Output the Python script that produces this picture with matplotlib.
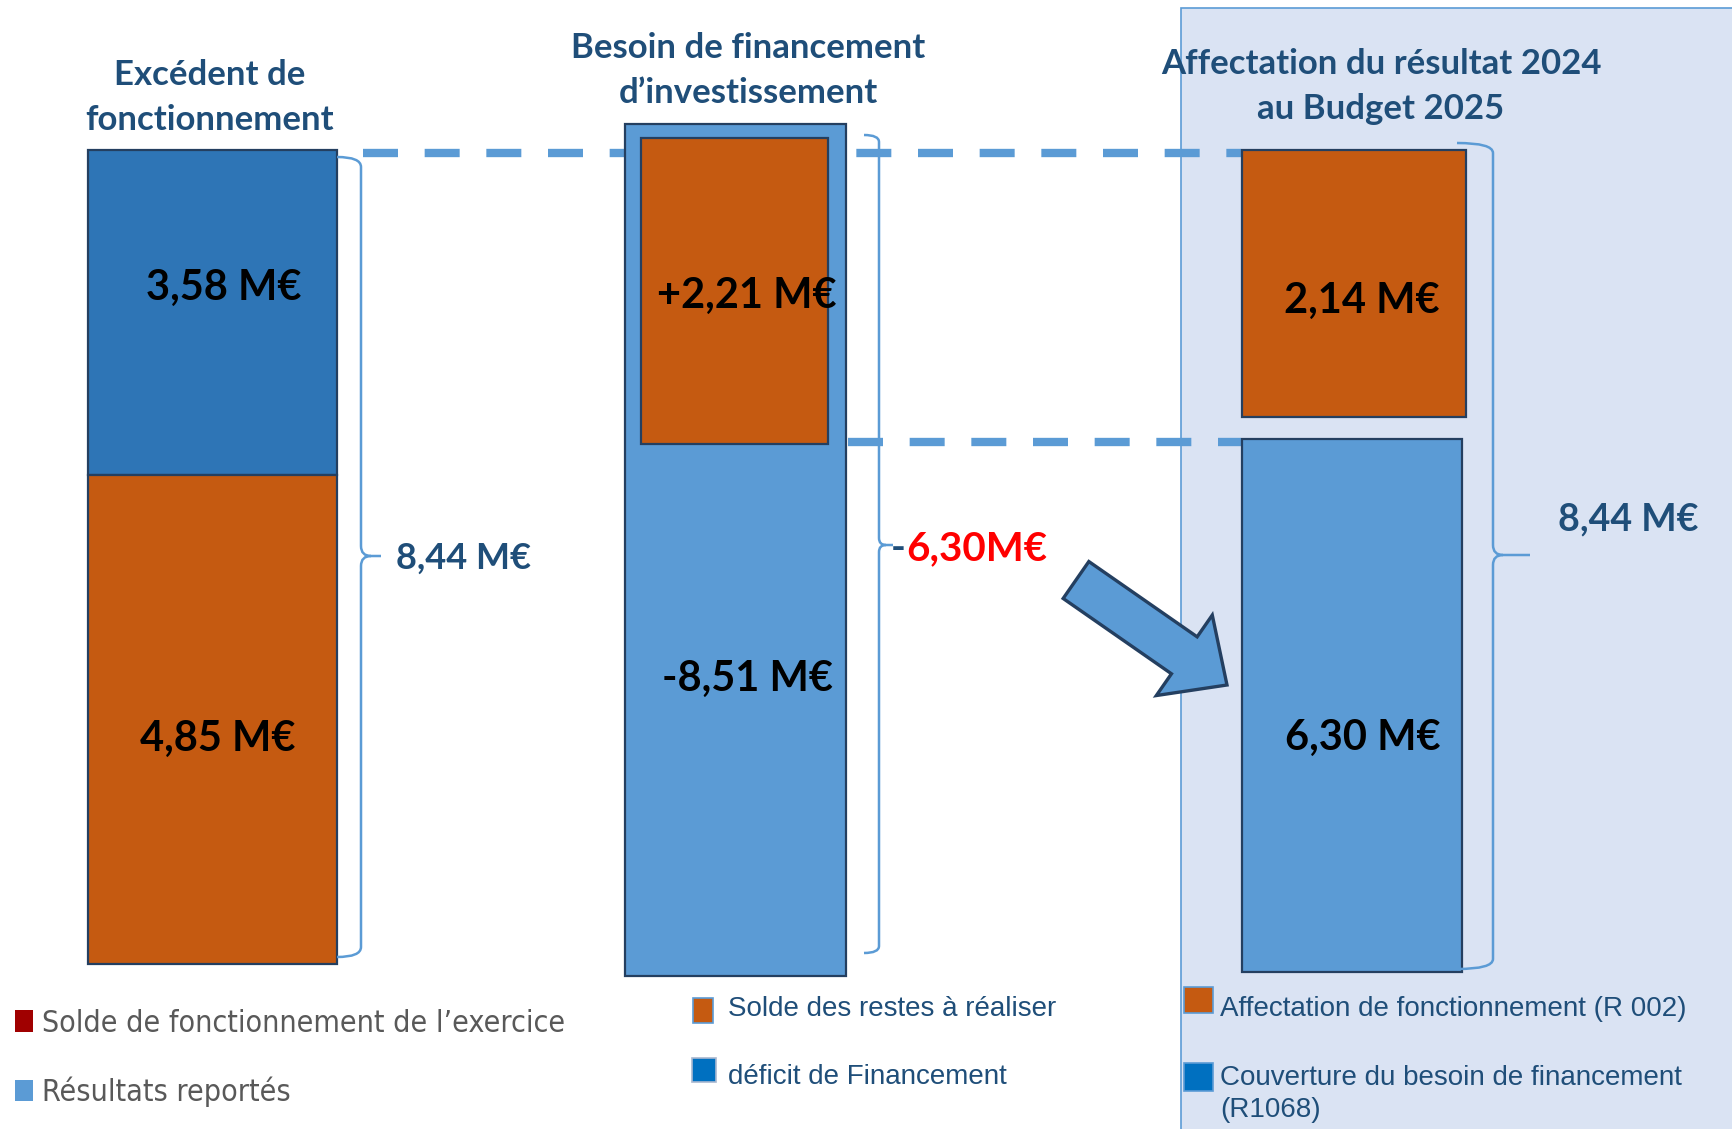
"""Affectation du résultat 2024 : schéma en barres empilées."""

import matplotlib

matplotlib.use("Agg", force=True)
import matplotlib.pyplot as plt
from matplotlib import font_manager
from matplotlib.patches import FancyArrow, PathPatch, Rectangle
from matplotlib.path import Path

# --- data (M€) -------------------------------------------------------------
titles = [
    ["Excédent de", "fonctionnement"],
    ["Besoin de financement", "d’investissement"],
    ["Affectation du résultat 2024", "au Budget 2025"],
]
# Excédent de fonctionnement : résultats reportés / solde de l'exercice
excedent_values = [3.58, 4.85]
excedent_total = 8.44
# Besoin de financement d'investissement : restes à réaliser / déficit
besoin_values = [2.21, -8.51]
besoin_net = -6.30
# Affectation au budget 2025 : R 002 / R1068
affect_values = [2.14, 6.30]
affect_total = 8.44

legend_left = ["Solde de fonctionnement de l’exercice", "Résultats reportés"]
legend_mid = ["Solde des restes à réaliser", "déficit de Financement"]
legend_right = ["Affectation de fonctionnement (R 002)",
                "Couverture du besoin de financement\n(R1068)"]

# --- layout (canvas pixels, schematic, not to scale) ------------------------
W, H = 1733, 1129
ORANGE = "#C55A11"
DARK_BLUE = "#2E75B6"
LIGHT_BLUE = "#5B9BD5"
EDGE = "#243F60"
TEXT_BLUE = "#1F4E79"

names = {f.name for f in font_manager.fontManager.ttflist}
NARROW = "Liberation Sans Narrow" if "Liberation Sans Narrow" in names else "DejaVu Sans"


def fmt(value, sign=False, space=True):
    txt = f"{abs(value):.2f}".replace(".", ",")
    if value < 0:
        txt = "-" + txt
    elif sign:
        txt = "+" + txt
    return txt + (" M€" if space else "M€")


def seg(ax, x0, x1, y0, y1, color, z=3):
    ax.bar((x0 + x1) / 2, y1 - y0, bottom=y0, width=x1 - x0, color=color,
           edgecolor=EDGE, linewidth=1.6, zorder=z)


def brace(ax, x_start, x_line, y_top, y_bot, y_tip, x_tip, r=10):
    verts = [(x_start, y_top), (x_line, y_top), (x_line, y_top + r),
             (x_line, y_tip - r), (x_line, y_tip), (x_line + r, y_tip),
             (x_tip, y_tip),
             (x_line + r, y_tip), (x_line, y_tip), (x_line, y_tip + r),
             (x_line, y_bot - r), (x_line, y_bot), (x_start, y_bot)]
    codes = [Path.MOVETO, Path.CURVE3, Path.CURVE3,
             Path.LINETO, Path.CURVE3, Path.CURVE3,
             Path.LINETO,
             Path.MOVETO, Path.CURVE3, Path.CURVE3,
             Path.LINETO, Path.CURVE3, Path.CURVE3]
    ax.add_patch(PathPatch(Path(verts, codes), fill=False, edgecolor=LIGHT_BLUE,
                           linewidth=1.8, zorder=3))


fig = plt.figure(figsize=(W / 100, H / 100), dpi=100)
ax = fig.add_axes([0, 0, 1, 1])
ax.set_xlim(0, W)
ax.set_ylim(H, 0)
ax.axis("off")

# shaded panel on the right
ax.add_patch(Rectangle((1181, 8), 700, 1300, facecolor="#DAE3F3",
                       edgecolor=LIGHT_BLUE, linewidth=1.2, zorder=0))

# dashed guide lines
dash = dict(color=LIGHT_BLUE, linewidth=6, linestyle=(0, (4.2, 3.2)),
            dash_capstyle="butt", zorder=1)
ax.plot([363, 1241], [153, 153], **dash)
ax.plot([848, 1241], [442, 442], **dash)

# column 1: excédent de fonctionnement
seg(ax, 88, 337, 150, 475, DARK_BLUE)
seg(ax, 88, 337, 475, 964, ORANGE)
# column 2: besoin de financement
seg(ax, 625, 846, 124, 976, LIGHT_BLUE)
seg(ax, 641, 828, 138, 444, ORANGE, z=4)
# column 3: affectation
seg(ax, 1242, 1466, 150, 417, ORANGE)
seg(ax, 1242, 1462, 439, 972, LIGHT_BLUE)

# braces
brace(ax, 337, 361, 157, 957, 556, 381)
brace(ax, 864, 879, 135, 953, 545, 893, r=7)
brace(ax, 1457, 1493, 143, 969, 555, 1530)

# arrow
ax.add_patch(FancyArrow(1076, 580, 151, 105, width=45, head_width=98,
                        head_length=52, length_includes_head=True,
                        facecolor=LIGHT_BLUE, edgecolor=EDGE, linewidth=2.4,
                        zorder=5))

# titles
title_pos = [(210, [85, 130]), (748, [58, 103]), (1381, [74, 119])]
for lines, (xc, baselines) in zip(titles, title_pos):
    for line, yb in zip(lines, baselines):
        ax.text(xc, yb, line, ha="center", va="baseline", family="Lato",
                weight="bold", fontsize=25, color=TEXT_BLUE, zorder=6)

# value labels inside the bars
big = dict(ha="center", va="baseline", family="Lato", weight="bold",
           fontsize=30, color="black", zorder=6)
ax.text(224, 300, fmt(excedent_values[0]), **big)
ax.text(218, 751, fmt(excedent_values[1]), **big)
ax.text(747, 308, fmt(besoin_values[0], sign=True), **big)
ax.text(748, 691, fmt(besoin_values[1]), **big)
ax.text(1362, 313, fmt(affect_values[0]), **big)
ax.text(1363, 750, fmt(affect_values[1]), **big)

# totals next to the braces
ax.text(396, 569, fmt(excedent_total), ha="left", va="baseline", family="Lato",
        weight="bold", fontsize=26, color=TEXT_BLUE, zorder=6)
ax.text(1628, 530, fmt(affect_total), ha="center", va="baseline", family="Lato",
        weight="bold", fontsize=27, color=TEXT_BLUE, zorder=6)
net = fmt(besoin_net, space=False)
ax.text(891, 560, net[0], ha="left", va="baseline", family="Lato",
        weight="bold", fontsize=29, color=TEXT_BLUE, zorder=6)
ax.text(906, 560, net[1:], ha="left", va="baseline", family="Lato",
        weight="bold", fontsize=29, color="#FF0000", zorder=6)

# legends
ax.add_patch(Rectangle((15, 1010), 18, 22, facecolor="#A00000", zorder=6))
ax.add_patch(Rectangle((15, 1080), 18, 21, facecolor=LIGHT_BLUE, zorder=6))
left_texts = [ax.text(42, yb, label, ha="left", va="baseline", family=NARROW,
                      fontstretch="condensed", fontsize=24, color="#595959",
                      zorder=6)
              for label, yb in zip(legend_left, [1032, 1101])]
# the source uses a narrow face: shrink to the reference width (~524 px)
renderer = fig.canvas.get_renderer()
first_width = left_texts[0].get_window_extent(renderer).width
scale = 524 / first_width
for t in left_texts:
    t.set_fontsize(24 * scale)

ax.add_patch(Rectangle((693, 998), 20, 25, facecolor=ORANGE,
                       edgecolor=LIGHT_BLUE, linewidth=1.2, zorder=6))
ax.add_patch(Rectangle((692, 1058), 24, 24, facecolor="#0070C0",
                       edgecolor="#A9B8D0", linewidth=1.2, zorder=6))
for label, yb in zip(legend_mid, [1016, 1084]):
    ax.text(728, yb, label, ha="left", va="baseline", family="Liberation Sans",
            fontsize=20, color=TEXT_BLUE, zorder=6)

ax.add_patch(Rectangle((1184, 987), 29, 26, facecolor=ORANGE,
                       edgecolor=LIGHT_BLUE, linewidth=1.2, zorder=6))
ax.add_patch(Rectangle((1184, 1063), 29, 28, facecolor="#0070C0",
                       edgecolor=LIGHT_BLUE, linewidth=1.2, zorder=6))
ax.text(1220, 1016, legend_right[0], ha="left", va="baseline",
        family="Liberation Sans", fontsize=20, color=TEXT_BLUE, zorder=6)
for line, yb in zip(legend_right[1].split("\n"), [1085, 1117]):
    ax.text(1220, yb, line, ha="left", va="baseline", family="Liberation Sans",
            fontsize=20, color=TEXT_BLUE, zorder=6)

fig.savefig("out.png", dpi=100)
plt.close(fig)
